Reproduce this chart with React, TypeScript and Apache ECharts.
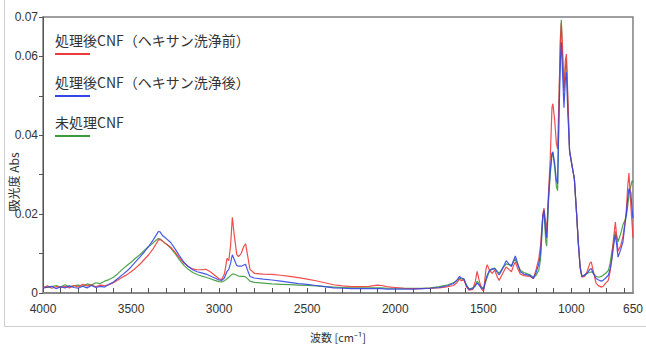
import React, { useEffect, useRef } from "react";
import * as echarts from "echarts";

const seriesNames = ["処理後CNF（ヘキサン洗浄前）", "処理後CNF（ヘキサン洗浄後）", "未処理CNF"];
const seriesColors = ["#ee3a3a", "#3447e6", "#3b9a3b"];

const wavenumbers = [
  4000, 3975, 3950, 3925, 3900, 3875, 3850, 3825, 3800, 3775, 3750, 3725, 3700, 3675, 3650, 3625, 3600, 3575, 3550, 3525,
  3500, 3475, 3450, 3425, 3400, 3375, 3360, 3345, 3335, 3320, 3300, 3275, 3250, 3225, 3200, 3175, 3150, 3125, 3100, 3075,
  3050, 3025, 3000, 2985, 2970, 2955, 2945, 2935, 2925, 2915, 2900, 2890, 2875, 2860, 2850, 2840, 2825, 2800, 2750, 2700,
  2650, 2600, 2550, 2500, 2450, 2400, 2350, 2300, 2250, 2200, 2150, 2100, 2075, 2050, 2000, 1950, 1900, 1850, 1800, 1750,
  1700, 1670, 1650, 1635, 1625, 1610, 1595, 1580, 1560, 1545, 1535, 1525, 1510, 1498, 1485, 1478, 1465, 1450, 1435, 1420,
  1410, 1395, 1380, 1370, 1355, 1340, 1328, 1318, 1305, 1290, 1270, 1250, 1235, 1215, 1200, 1185, 1175, 1162, 1155, 1145,
  1140, 1130, 1120, 1110, 1105, 1095, 1085, 1078, 1070, 1062, 1057, 1050, 1042, 1034, 1028, 1020, 1010, 995, 983, 970,
  960, 950, 940, 925, 910, 895, 887, 875, 860, 845, 830, 820, 805, 790, 780, 770, 760, 750, 742, 735,
  720, 707, 695, 688, 680, 673, 667, 662, 655, 650,
];

const redValues = [
  0.0013, 0.0018, 0.0012, 0.0016, 0.0014, 0.0017, 0.0013, 0.0019, 0.0015, 0.0022, 0.0018, 0.0021, 0.0016, 0.002, 0.0019, 0.0021, 0.0026, 0.0033, 0.004, 0.0046,
  0.0054, 0.0063, 0.0073, 0.0085, 0.0097, 0.0112, 0.0123, 0.0134, 0.0136, 0.0131, 0.0124, 0.0116, 0.0103, 0.0089, 0.0076, 0.0067, 0.0061, 0.0059, 0.0059, 0.006,
  0.0054, 0.0045, 0.0036, 0.0034, 0.0048, 0.0088, 0.0082, 0.012, 0.0192, 0.015, 0.0098, 0.0092, 0.01, 0.0118, 0.0125, 0.01, 0.006, 0.005, 0.0048, 0.0047,
  0.0045, 0.0042, 0.0039, 0.0035, 0.0031, 0.0026, 0.0021, 0.0018, 0.0016, 0.0016, 0.0017, 0.002, 0.0019, 0.0016, 0.0014, 0.0012, 0.0011, 0.0011, 0.0012, 0.0013,
  0.0016, 0.0019, 0.0026, 0.0036, 0.0031, 0.0033, 0.0015, 0.0007, 0.0009, 0.003, 0.0055, 0.0035, 0.001, 0.0005, 0.006, 0.0072, 0.0058, 0.005, 0.0058, 0.004,
  0.0032, 0.0045, 0.0058, 0.0066, 0.006, 0.0054, 0.007, 0.0079, 0.0062, 0.0048, 0.0044, 0.0043, 0.0042, 0.0037, 0.006, 0.0087, 0.012, 0.02, 0.0215, 0.0175,
  0.0155, 0.025, 0.034, 0.047, 0.048, 0.044, 0.038, 0.0365, 0.05, 0.064, 0.0685, 0.062, 0.0512, 0.059, 0.0606, 0.05, 0.036, 0.032, 0.029, 0.02,
  0.0124, 0.0065, 0.004, 0.0042, 0.0055, 0.0075, 0.0079, 0.0055, 0.0025, 0.0018, 0.0015, 0.0017, 0.0025, 0.0032, 0.0055, 0.009, 0.014, 0.018, 0.014, 0.0106,
  0.012, 0.0143, 0.018, 0.021, 0.027, 0.0304, 0.026, 0.022, 0.0175, 0.014,
];

const blueValues = [
  0.0012, 0.0015, 0.0017, 0.0011, 0.0016, 0.0013, 0.0018, 0.0014, 0.0012, 0.0017, 0.0013, 0.0019, 0.0014, 0.0017, 0.0015, 0.0022, 0.0028, 0.0037, 0.0046, 0.0055,
  0.0066, 0.0079, 0.0091, 0.0104, 0.0118, 0.0134, 0.0145, 0.0156, 0.0155, 0.0145, 0.0138, 0.0128, 0.0112, 0.0094, 0.0078, 0.0067, 0.0059, 0.0054, 0.0051, 0.0048,
  0.0043, 0.0038, 0.0033, 0.0032, 0.0038, 0.0055, 0.006, 0.0075, 0.0097, 0.0086, 0.007, 0.0068, 0.0068, 0.0071, 0.0073, 0.006, 0.0042, 0.0038, 0.0035, 0.0033,
  0.003, 0.0027, 0.0024, 0.0022, 0.0019, 0.0016, 0.0013, 0.0012, 0.0011, 0.0011, 0.0011, 0.0011, 0.0011, 0.001, 0.001, 0.001, 0.001, 0.0011, 0.0012, 0.0014,
  0.0019, 0.0024, 0.0032, 0.0042, 0.0038, 0.0036, 0.0018, 0.0009, 0.0011, 0.0018, 0.0026, 0.002, 0.0012, 0.001, 0.0035, 0.0045, 0.0058, 0.006, 0.0062, 0.0052,
  0.0046, 0.0058, 0.0072, 0.0082, 0.0074, 0.0067, 0.0083, 0.0094, 0.0075, 0.0054, 0.0048, 0.0046, 0.0044, 0.0037, 0.0052, 0.0074, 0.01, 0.0195, 0.021, 0.015,
  0.014, 0.024, 0.031, 0.0355, 0.0358, 0.033, 0.0285, 0.0277, 0.045, 0.059, 0.0636, 0.056, 0.047, 0.054, 0.056, 0.046, 0.036, 0.032, 0.029, 0.02,
  0.0124, 0.0065, 0.0042, 0.0045, 0.005, 0.006, 0.0062, 0.005, 0.0037, 0.0033, 0.003, 0.0032, 0.0038, 0.0045, 0.006, 0.0085, 0.012, 0.0148, 0.012, 0.0091,
  0.011, 0.013, 0.0175, 0.02, 0.024, 0.0265, 0.0258, 0.0255, 0.021, 0.019,
];

const greenValues = [
  0.0015, 0.0014, 0.0016, 0.0019, 0.0015, 0.0021, 0.0016, 0.0018, 0.002, 0.0017, 0.0023, 0.002, 0.0026, 0.0024, 0.003, 0.0034, 0.004, 0.0049, 0.006, 0.0069,
  0.0078, 0.0088, 0.0097, 0.0108, 0.0118, 0.0127, 0.0133, 0.0138, 0.0137, 0.0131, 0.0124, 0.0114, 0.01, 0.0084, 0.007, 0.006, 0.0052, 0.0047, 0.0043, 0.004,
  0.0036, 0.0032, 0.0029, 0.0028, 0.0031, 0.0036, 0.004, 0.0044, 0.0048, 0.0048, 0.0045, 0.0043, 0.0042, 0.0042, 0.0041, 0.0037, 0.003, 0.0027, 0.0025, 0.0023,
  0.0022, 0.0021, 0.002, 0.0019, 0.0018, 0.0016, 0.0015, 0.0014, 0.0013, 0.0013, 0.0013, 0.0013, 0.0013, 0.0012, 0.0012, 0.0012, 0.0012, 0.0012, 0.0013, 0.0016,
  0.0021, 0.0026, 0.0032, 0.0038, 0.0036, 0.0034, 0.002, 0.001, 0.0013, 0.002, 0.003, 0.0024, 0.0015, 0.0012, 0.003, 0.004, 0.0055, 0.0062, 0.0063, 0.0055,
  0.005, 0.006, 0.0068, 0.0074, 0.0072, 0.007, 0.008, 0.0087, 0.0072, 0.0058, 0.0052, 0.0049, 0.0046, 0.004, 0.0045, 0.0057, 0.0085, 0.019, 0.0205, 0.013,
  0.0119, 0.023, 0.03, 0.035, 0.0355, 0.032, 0.027, 0.026, 0.048, 0.065, 0.0693, 0.06, 0.052, 0.057, 0.059, 0.048, 0.036, 0.032, 0.029, 0.02,
  0.0124, 0.0065, 0.0042, 0.0046, 0.005, 0.0052, 0.0054, 0.005, 0.0042, 0.004, 0.0042, 0.0045, 0.005, 0.0057, 0.0075, 0.0105, 0.013, 0.0156, 0.0145, 0.013,
  0.015, 0.0173, 0.0185, 0.0195, 0.022, 0.0247, 0.0262, 0.0272, 0.0285, 0.028,
];

const xLabelValues = [4000, 3500, 3000, 2500, 2000, 1500, 1000, 650];
const xTickValues = [700, 800, 900, 1000, 1100, 1200, 1300, 1400, 1500, 1600, 1700, 1800, 1900, 2000, 2100, 2200, 2300, 2400, 2500, 2600, 2700, 2800, 2900, 3000, 3100, 3200, 3300, 3400, 3500, 3600, 3700, 3800, 3900];
const yLabelValues = [0, 0.02, 0.04, 0.06, 0.07];
const yTickValues = [0, 0.01, 0.02, 0.03, 0.04, 0.05, 0.06, 0.07];

const xAxisName = "波数 [cm⁻¹]";
const yAxisName = "吸光度 Abs";

export default function App() {
  const ref = useRef<HTMLDivElement>(null);
  useEffect(() => {
    if (!ref.current) return;
    const chart = echarts.init(ref.current, undefined, { renderer: "svg" });
    const valueSets = [redValues, blueValues, greenValues];
    const drawOrder = [2, 0, 1];
    const numFont = "'Liberation Sans', Arial, sans-serif";
    const cjkFont = "'Noto Sans CJK JP', 'Noto Sans', sans-serif";

    const legendGraphics: any[] = [];
    const legendTextY = [42, 84, 124];
    seriesNames.forEach((name, i) => {
      legendGraphics.push({
        type: "text",
        left: 55,
        top: legendTextY[i] - 9,
        style: { text: name, fill: "#333", font: `14px ${cjkFont}` },
      });
      legendGraphics.push({
        type: "line",
        shape: { x1: 55, y1: legendTextY[i] + 12, x2: 90, y2: legendTextY[i] + 12 },
        style: { stroke: seriesColors[i], lineWidth: 2 },
      });
    });

    chart.setOption({
      animation: false,
      backgroundColor: "#ffffff",
      grid: {
        left: 43,
        top: 17,
        right: 9,
        bottom: 47,
        show: true,
        borderColor: "#808080",
        borderWidth: 1.5,
        containLabel: false,
      },
      xAxis: {
        type: "value",
        min: 650,
        max: 4000,
        inverse: true,
        name: xAxisName,
        nameLocation: "middle",
        nameGap: 38,
        nameTextStyle: { color: "#333", fontSize: 11, fontFamily: cjkFont },
        axisLine: { show: true, lineStyle: { color: "#888", width: 2 } },
        axisTick: { show: true, inside: true, length: 5, customValues: xTickValues, lineStyle: { color: "#555" } },
        axisLabel: {
          customValues: xLabelValues,
          color: "#333",
          fontSize: 12,
          fontFamily: numFont,
          margin: 10,
          hideOverlap: false,
          formatter: (v: number) => String(v),
        },
        splitLine: { show: false },
      },
      yAxis: {
        type: "value",
        min: 0,
        max: 0.07,
        axisLine: { show: true, lineStyle: { color: "#555", width: 1 } },
        axisTick: { show: true, inside: false, length: 4, customValues: yTickValues, lineStyle: { color: "#555" } },
        axisLabel: {
          customValues: yLabelValues,
          color: "#333",
          fontSize: 12,
          fontFamily: numFont,
          margin: 5,
          formatter: (v: number) => (v === 0 ? "0" : v.toFixed(2)),
        },
        splitLine: { show: false },
      },
      graphic: [
        {
          type: "line",
          shape: { x1: 4.5, y1: 0, x2: 4.5, y2: 326.5 },
          style: { stroke: "#cfcfcf", lineWidth: 1 },
        },
        {
          type: "line",
          shape: { x1: 4.5, y1: 326.5, x2: 646, y2: 326.5 },
          style: { stroke: "#cfcfcf", lineWidth: 1 },
        },
        {
          type: "text",
          x: 13,
          y: 182,
          rotation: Math.PI / 2,
          style: {
            text: yAxisName,
            fill: "#333",
            font: `12px ${cjkFont}`,
            align: "center",
            verticalAlign: "middle",
          },
        },
        ...legendGraphics,
      ],
      series: drawOrder.map((i) => ({
        type: "line",
        name: seriesNames[i],
        data: wavenumbers.map((w, k) => [w, valueSets[i][k]]),
        showSymbol: false,
        symbol: "none",
        lineStyle: { color: seriesColors[i], width: 1.2, opacity: 0.9 },
        itemStyle: { color: seriesColors[i] },
        clip: true,
      })),
    });
    return () => chart.dispose();
  }, []);
  return <div ref={ref} style={{ position: "fixed", left: 0, top: 0, width: 646, height: 347 }} />;
}
